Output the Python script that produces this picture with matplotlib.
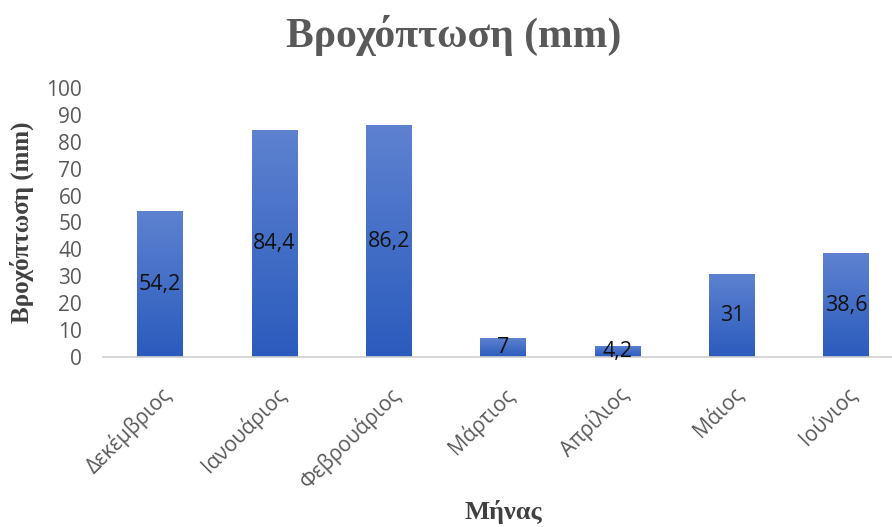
import numpy as np
import matplotlib
matplotlib.use("Agg")
import matplotlib.pyplot as plt
from matplotlib.colors import LinearSegmentedColormap

months = ["Δεκέμβριος", "Ιανουάριος", "Φεβρουάριος", "Μάρτιος", "Απρίλιος", "Μάιος", "Ιούνιος"]
rainfall = [54.2, 84.4, 86.2, 7, 4.2, 31, 38.6]
value_labels = ["54,2", "84,4", "86,2", "7", "4,2", "31", "38,6"]
yticks = [0, 10, 20, 30, 40, 50, 60, 70, 80, 90, 100]

W, H = 892, 527
fig = plt.figure(figsize=(W / 100, H / 100), dpi=100)
ax = fig.add_axes([103 / W, 1 - 357 / H, (892 - 103) / W, (357 - 88) / H])

x = np.arange(len(months))
bars = ax.bar(x, rainfall, width=0.4, color="none", edgecolor="none", zorder=2)

# vertical gradient fill for each bar
cmap = LinearSegmentedColormap.from_list("rain", ["#2a5bbd", "#5e82d0"])
grad = np.linspace(0, 1, 256).reshape(-1, 1)
for b in bars:
    x0, w, h = b.get_x(), b.get_width(), b.get_height()
    im = ax.imshow(grad, extent=(x0, x0 + w, 0, h), origin="lower", cmap=cmap,
                   aspect="auto", zorder=2)
    im.set_clip_path(b)

for xi, v, lab in zip(x, rainfall, value_labels):
    ax.text(xi, v / 2, lab, ha="center", va="center", fontsize=15.5,
            fontfamily="Open Sans", color="#111111", zorder=3)

ax.set_xlim(-0.5, 6.4)
ax.set_ylim(0, 100)
ax.set_yticks(yticks)
ax.set_yticklabels([str(t) for t in yticks], fontsize=15, color="#595959",
                   fontfamily="Open Sans")
ax.set_xticks(x)
ax.set_xticklabels(months, rotation=45, ha="right", rotation_mode="anchor",
                   fontsize=15, color="#595959", fontfamily="Open Sans")
ax.tick_params(axis="y", length=0, pad=15)
ax.tick_params(axis="x", length=0, pad=19)

for s in ["top", "right", "left"]:
    ax.spines[s].set_visible(False)
ax.spines["bottom"].set_color("#d0d0d0")
ax.spines["bottom"].set_linewidth(1.2)

fig.text(454 / W, 1 - 35 / H, "Βροχόπτωση (mm)", ha="center", va="center",
         fontsize=30, fontweight="bold", fontfamily="Liberation Serif", color="#595959")
fig.text(22 / W, 1 - 222 / H, "Βροχόπτωση (mm)", ha="center", va="center",
         rotation=90, fontsize=18, fontweight="bold", fontfamily="Liberation Serif",
         color="#404040")
fig.text(503 / W, 1 - 512 / H, "Μήνας", ha="center", va="center",
         fontsize=19, fontweight="bold", fontfamily="Liberation Serif", color="#404040")

fig.savefig("out.png", dpi=100)
